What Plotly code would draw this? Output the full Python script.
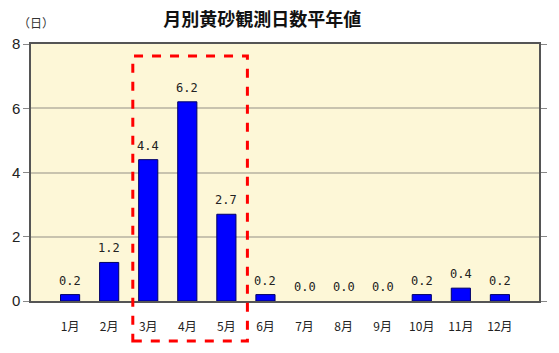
import plotly.graph_objects as go

months = ["1月", "2月", "3月", "4月", "5月", "6月", "7月", "8月", "9月", "10月", "11月", "12月"]
values = [0.2, 1.2, 4.4, 6.2, 2.7, 0.2, 0.0, 0.0, 0.0, 0.2, 0.4, 0.2]
positions = list(range(1, 13))
y_ticks = [0, 2, 4, 6, 8]

font_jp = "Noto Sans CJK JP, DejaVu Sans, sans-serif"

fig = go.Figure()
fig.add_trace(go.Bar(
    x=positions, y=values, width=0.49,
    marker=dict(color="#0000FF", line=dict(color="#000066", width=[1 if v > 0 else 0 for v in values])),
))

annots = [dict(x=p, y=v, text=f"{v:.1f}", showarrow=False, yanchor="bottom", yshift=5,
               font=dict(family="DejaVu Sans Mono, monospace", size=12, color="#222222"))
          for p, v in zip(positions, values)]
annots.append(dict(text="（日）", xref="paper", yref="paper", x=-0.03, y=1.085, xanchor="left",
                   yanchor="middle", showarrow=False, font=dict(size=12, color="#333333")))

fig.add_shape(type="rect", xref="paper", yref="paper", x0=0.2004, x1=0.426, y0=-0.156, y1=0.953,
              line=dict(color="#FF0000", width=3, dash="dash"), layer="above")

fig.update_layout(
    width=559, height=353,
    margin=dict(l=30, r=15, t=44, b=52),
    paper_bgcolor="white", plot_bgcolor="#FDF7D7",
    showlegend=False,
    font=dict(family=font_jp, size=12, color="#222222"),
    title=dict(text="<b>月別黄砂観測日数平年値</b>", x=0.469, xanchor="center", y=0.943, yanchor="middle",
               font=dict(size=18, color="#111111", family=font_jp)),
    annotations=annots,
)
fig.update_xaxes(range=[0, 13], tickmode="array", tickvals=positions, ticktext=months,
                 showgrid=False, ticks="", showline=True, linecolor="#555555", linewidth=1.5,
                 mirror=True, tickfont=dict(size=12, family=font_jp), ticklabelstandoff=14)
fig.update_yaxes(range=[0, 8], tickvals=y_ticks, showgrid=True, gridcolor="#C8C3AE", gridwidth=1.5,
                 ticks="outside", ticklen=6, tickcolor="#888888", showline=True, linecolor="#555555",
                 linewidth=1.5, mirror="ticks", zeroline=False,
                 tickfont=dict(size=15, family="Liberation Sans, Arial, sans-serif", color="#222222"))

fig.write_html("out.html")
